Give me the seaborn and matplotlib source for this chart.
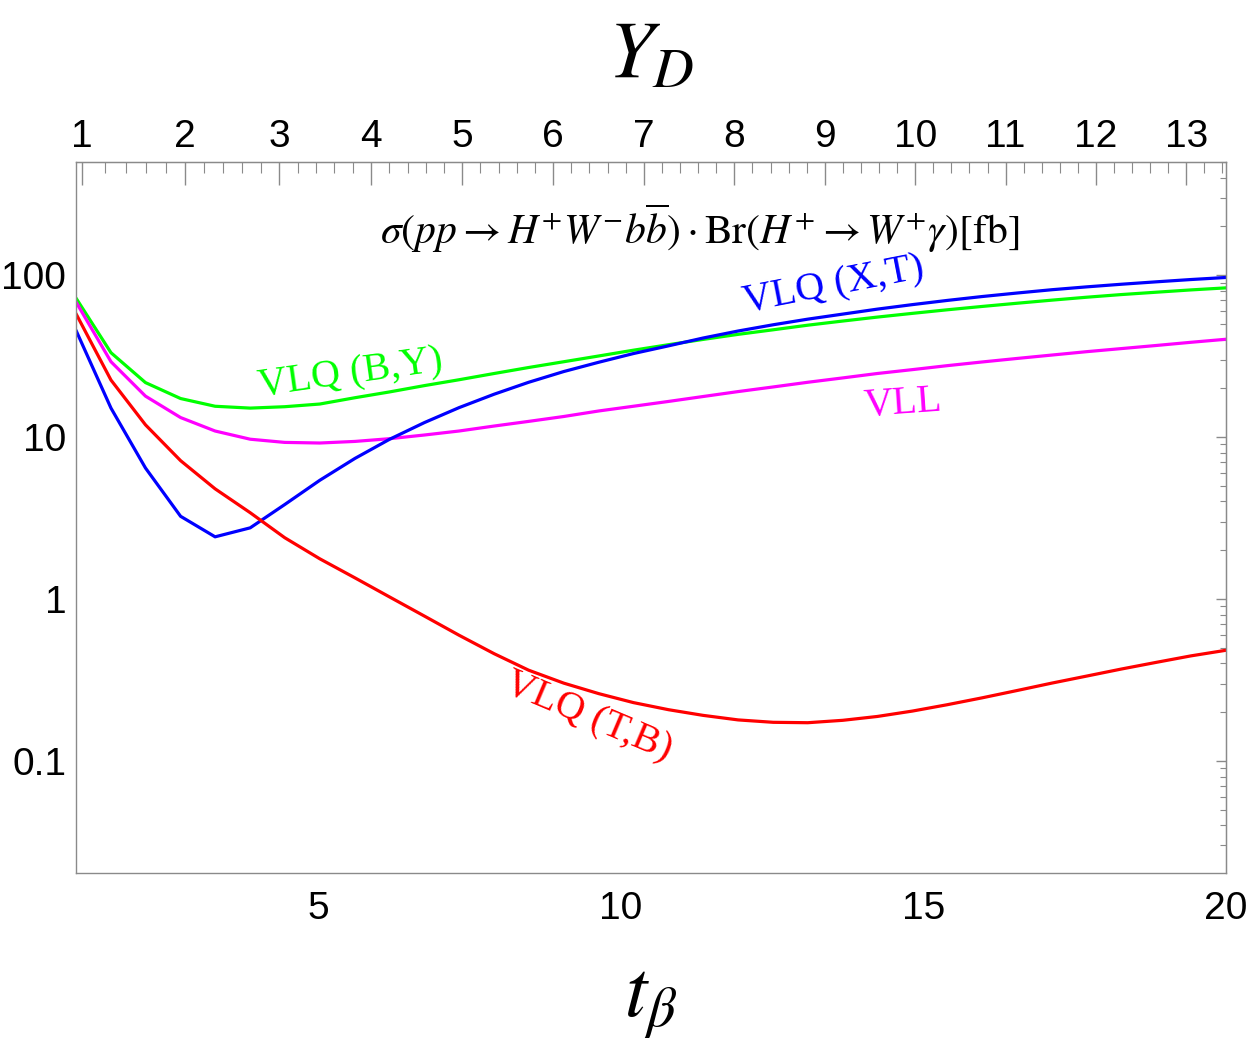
import numpy as np
import pandas as pd
import matplotlib
matplotlib.use("Agg")
import matplotlib.pyplot as plt
import seaborn as sns
from matplotlib.ticker import MultipleLocator, LogLocator, NullFormatter

# === Values ===
t_beta = [1.00, 1.58, 2.15, 2.73, 3.30, 3.88, 4.45, 5.03, 5.61, 6.18, 6.76, 7.33,
          7.91, 8.48, 9.06, 9.64, 10.21, 10.79, 11.36, 11.94, 12.52, 13.09, 13.67,
          14.24, 14.82, 15.39, 15.97, 16.55, 17.12, 17.70, 18.27, 18.85, 19.42, 20.00]

vlq_by = [72.4, 33.2, 21.7, 17.3, 15.5, 15.1, 15.4, 16.0, 17.5, 19.0, 20.8, 22.6,
          24.7, 26.9, 29.2, 31.7, 34.4, 37.2, 40.1, 43.1, 46.0, 49.1, 52.1,
          55.1, 58.1, 61.1, 64.1, 67.1, 70.1, 73.1, 75.9, 78.5, 81.1, 83.5]

vll = [68.5, 29.2, 17.9, 13.2, 10.9, 9.7, 9.27, 9.19, 9.40, 9.77, 10.3, 10.9,
       11.7, 12.5, 13.4, 14.5, 15.5, 16.6, 17.8, 19.1, 20.4, 21.8, 23.2,
       24.7, 26.1, 27.6, 29.1, 30.6, 32.1, 33.7, 35.2, 36.8, 38.5, 40.2]

vlq_xt = [45.8, 15.1, 6.44, 3.24, 2.42, 2.75, 3.83, 5.41, 7.38, 9.68, 12.3, 15.2,
          18.4, 21.8, 25.4, 29.0, 32.8, 36.6, 40.9, 45.2, 49.4, 53.5, 57.5,
          61.7, 65.8, 69.8, 73.8, 77.6, 81.3, 84.7, 87.9, 91.0, 94.0, 96.8]

vlq_tb = [58.0, 22.5, 11.9, 7.15, 4.79, 3.41, 2.39, 1.77, 1.35, 1.03, 0.783, 0.597,
          0.459, 0.363, 0.302, 0.260, 0.229, 0.207, 0.191, 0.179, 0.173, 0.172, 0.178,
          0.188, 0.203, 0.222, 0.245, 0.272, 0.302, 0.334, 0.369, 0.406, 0.445, 0.482]

models = ["VLQ (B,Y)", "VLL", "VLQ (X,T)", "VLQ (T,B)"]
colors = {"VLQ (B,Y)": "#00ff00", "VLL": "#ff00ff",
          "VLQ (X,T)": "#0000ff", "VLQ (T,B)": "#ff0000"}

y_ticks = [0.1, 1, 10, 100]
y_tick_labels = ["0.1", "1", "10", "100"]
x_ticks = [5, 10, 15, 20]
yd_ticks = list(range(1, 14))

df = pd.DataFrame({
    "t": t_beta * 4,
    "sigma": vlq_by + vll + vlq_xt + vlq_tb,
    "model": sum([[m] * len(t_beta) for m in models], []),
})

# === Style ===
sns.set_style("white")
plt.rcParams["font.family"] = ["Liberation Sans", "DejaVu Sans"]
plt.rcParams["mathtext.fontset"] = "stix"
frame_col = "#8a8a8a"

fig = plt.figure(figsize=(12.5, 10.42), dpi=100)
ax = fig.add_axes([0.0607, 0.1619, 0.9201, 0.6826])

sns.lineplot(data=df, x="t", y="sigma", hue="model", hue_order=models,
             palette=colors, linewidth=2.3, legend=False, estimator=None,
             sort=False, ax=ax)

ax.set_yscale("log")
ax.set_xlim(1, 20)
ax.set_ylim(0.0202, 500)

for s in ax.spines.values():
    s.set_color(frame_col)
    s.set_linewidth(1.0)

# bottom / left ticks
ax.set_xticks(x_ticks)
ax.xaxis.set_minor_locator(MultipleLocator(1))
ax.set_yticks(y_ticks)
ax.set_yticklabels(y_tick_labels)
ax.yaxis.set_minor_locator(LogLocator(base=10, subs=np.arange(2, 10)))
ax.yaxis.set_minor_formatter(NullFormatter())
ax.tick_params(axis="x", which="major", direction="in", length=6, width=1,
               color=frame_col, labelcolor="black", labelsize=28, pad=13, top=False)
ax.tick_params(axis="x", which="minor", direction="in", length=3.6, width=0.8,
               color=frame_col, top=False)
ax.tick_params(axis="y", which="major", direction="in", length=8.6, width=1,
               color=frame_col, labelcolor="black", labelsize=28, pad=7, right=False)
ax.tick_params(axis="y", which="minor", direction="in", length=5.5, width=0.8,
               color=frame_col, right=False)
ax.set_xlabel(r"$t_\beta$", fontsize=58, labelpad=27, color="black")
ax.set_ylabel("")

# right frame ticks (no labels)
right = ax.secondary_yaxis("right")
right.set_yticks(y_ticks)
right.yaxis.set_minor_locator(LogLocator(base=10, subs=np.arange(2, 10)))
right.yaxis.set_minor_formatter(NullFormatter())
right.tick_params(which="major", direction="in", length=7, width=1,
                  color=frame_col, labelright=False)
right.tick_params(which="minor", direction="in", length=4.3, width=0.8,
                  color=frame_col)
right.spines["right"].set_color(frame_col)


# top axis: Y_D as a function of t_beta
def to_yd(t):
    return np.sqrt(1 + np.asarray(t, dtype=float) ** 2) / 1.49


def to_t(y):
    return np.sqrt(np.clip((1.49 * np.asarray(y, dtype=float)) ** 2 - 1, 0, None))


top = ax.secondary_xaxis("top", functions=(to_yd, to_t))
top.set_xticks(yd_ticks)
top.xaxis.set_minor_locator(MultipleLocator(0.2))
top.tick_params(which="major", direction="in", length=16.5, width=1,
                color=frame_col, labelcolor="black", labelsize=28, pad=5)
top.tick_params(which="minor", direction="in", length=8, width=0.8,
                color=frame_col)
top.spines["top"].set_color(frame_col)
top.set_xlabel(r"$Y_D$", fontsize=58, labelpad=30, color="black")

# in-plot texts
ax.text(11.3, 195,
        r"$\sigma(pp\rightarrow H^{+}W^{-}b\overline{b})\cdot\mathrm{Br}(H^{+}\rightarrow W^{+}\gamma)[\mathrm{fb}]$",
        fontsize=30, ha="center", va="center", color="black")

lab_font = dict(fontfamily="Liberation Serif", fontsize=29, ha="center", va="center")
ax.text(5.53, 24.5, "VLQ (B,Y)", color=colors["VLQ (B,Y)"], rotation=8, **lab_font)
ax.text(13.51, 85.5, "VLQ (X,T)", color=colors["VLQ (X,T)"], rotation=11, **lab_font)
ax.text(14.66, 16.0, "VLL", color=colors["VLL"], rotation=4, **lab_font)
ax.text(9.46, 0.186, "VLQ (T,B)", color=colors["VLQ (T,B)"], rotation=-23, **lab_font)

fig.savefig("out.png", dpi=100)
